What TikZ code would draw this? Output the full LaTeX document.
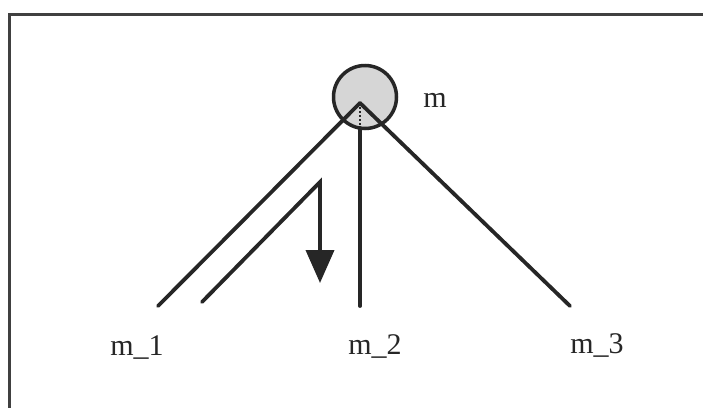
\documentclass[tikz,border=0pt]{standalone}
\usepackage{fontspec}
\setmainfont{Liberation Serif}
\usetikzlibrary{arrows.meta}
\begin{document}
\begin{tikzpicture}[x=1pt,y=-1pt,
  edge/.style={line width=3.8pt,line cap=round,black!85},
  lbl/.style={font=\fontsize{30}{33}\selectfont,inner sep=0pt,text=black!85},
  frame/.style={line width=3pt,black!75}]
\useasboundingbox (0,0) rectangle (703,407);
\fill[white] (0,0) rectangle (703,407);
\coordinate (tl) at (9,14);
\coordinate (tr) at (705,14);
\coordinate (bl) at (9,409);
\draw[frame] (tr) -- (tl) -- (bl);
\node[circle,draw=black!85,line width=3.5pt,fill=gray!32,minimum size=63pt,inner sep=0pt] (m) at (365,97) {};
\coordinate (apex) at (360,103);
\coordinate (e1) at (158,306);
\coordinate (e2) at (360,306);
\coordinate (e3) at (570,306);
\draw[edge] (apex) -- (e1);
\draw[edge] (apex) -- (e3);
\coordinate (mb) at (360,128);
\draw[line width=2pt,dotted,black!85] (apex) -- (mb);
\draw[edge] (mb) -- (e2);
\coordinate (s1) at (202,302);
\coordinate (s2) at (320,182);
\coordinate (s3) at (320,283);
\draw[edge,-{Triangle[length=33pt,width=28pt]}] (s1) -- (s2) -- (s3);
\node[lbl] (lm) at (435,100) {m};
\node[lbl] (l1) at (137,348) {m\_1};
\node[lbl] (l2) at (375,346) {m\_2};
\node[lbl] (l3) at (597,345) {m\_3};
\end{tikzpicture}
\end{document}
